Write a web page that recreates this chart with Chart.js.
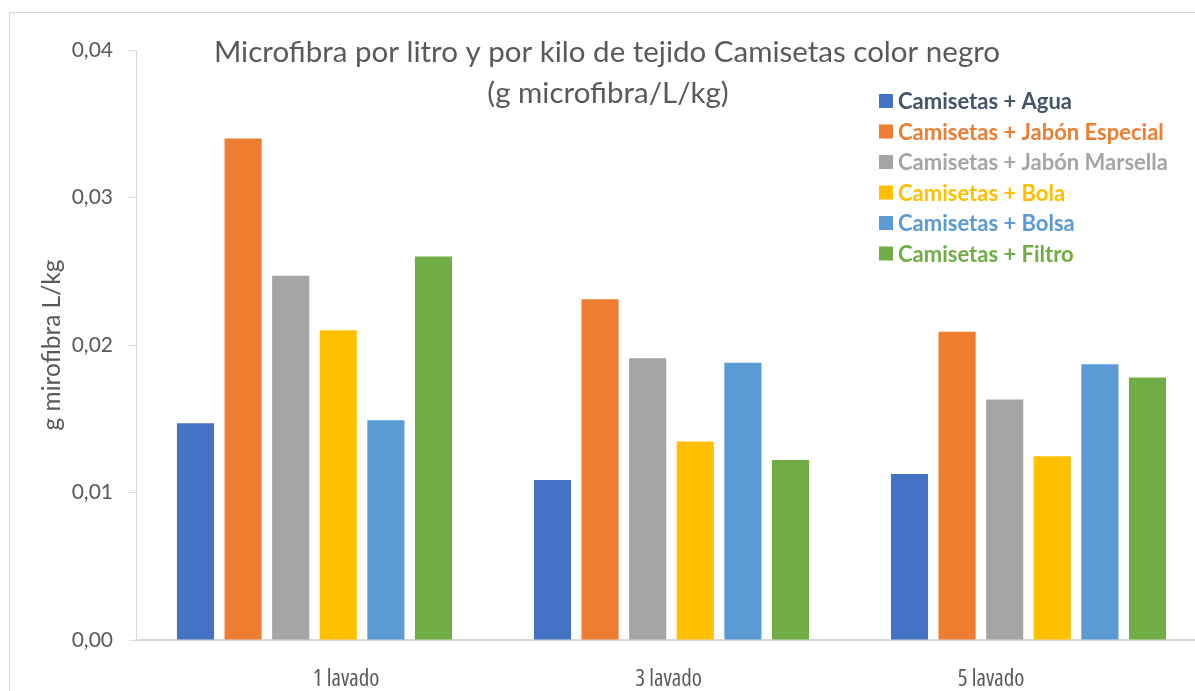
<!DOCTYPE html>
<html>
<head>
<meta charset="utf-8">
<script src="https://cdn.jsdelivr.net/npm/chart.js@4/dist/chart.umd.min.js"></script>
<style>
	html, body { margin: 0; padding: 0; background: #fff; overflow: hidden; }
	#frame {
		position: absolute; left: 9px; top: 12px;
		width: 1250px; height: 700px;
		border: 1px solid #d9d9d9;
	}
	#frame canvas { display: block; }
</style>
</head>
<body>
<div id="frame"><canvas id="microfibra-chart" width="1250" height="700"></canvas></div>
<script>
	'use strict';

	var categories = ['1 lavado', '3 lavado', '5 lavado'];
	var seriesNames = [
		'Camisetas + Agua',
		'Camisetas + Jabón Especial',
		'Camisetas + Jabón Marsella',
		'Camisetas + Bola',
		'Camisetas + Bolsa',
		'Camisetas + Filtro'
	];
	var agua = [0.0147, 0.01085, 0.01125];
	var jabonEspecial = [0.0340, 0.0231, 0.0209];
	var jabonMarsella = [0.0247, 0.0191, 0.0163];
	var bola = [0.0210, 0.01345, 0.01245];
	var bolsa = [0.0149, 0.0188, 0.0187];
	var filtro = [0.0260, 0.0122, 0.0178];
	var yTicks = [0, 0.01, 0.02, 0.03, 0.04];

	var seriesValues = [agua, jabonEspecial, jabonMarsella, bola, bolsa, filtro];
	var barColors = ['#4472c4', '#ed7d31', '#a5a5a5', '#ffc000', '#5b9bd5', '#70ad47'];
	var legendTextColors = ['#44546a', '#ed7d31', '#a5a5a5', '#ffc000', '#5b9bd5', '#70ad47'];
	var titleLines = ['Microfibra por litro y por kilo de tejido Camisetas color negro', '(g microfibra/L/kg)'];

	var textGrey = '#595959';
	var lineGrey = '#d9d9d9';
	var baseFont = 'Lato, "Open Sans", sans-serif';

	Chart.defaults.font.family = baseFont;

	// title and legend sit on top of the plot area, so they are painted here
	var overlayText = {
		id: 'overlayText',
		afterDraw: function (chart) {
			var ctx = chart.ctx;
			ctx.save();
			ctx.fillStyle = textGrey;
			ctx.textAlign = 'center';
			ctx.textBaseline = 'alphabetic';
			ctx.font = '29.5px ' + baseFont;
			ctx.fillText(titleLines[0], 597, 49);
			ctx.fillText(titleLines[1], 598, 90);

			ctx.textAlign = 'left';
			ctx.textBaseline = 'middle';
			ctx.font = 'bold 22px ' + baseFont;
			chart.data.datasets.forEach(function (ds, i) {
				var y = 88 + i * 30.5;
				ctx.fillStyle = ds.backgroundColor;
				ctx.fillRect(869, y - 7, 14, 14);
				ctx.fillStyle = legendTextColors[i];
				ctx.fillText(ds.label, 888, y + 1);
			});
			ctx.restore();
		}
	};

	var datasets = seriesNames.map(function (name, i) {
		return {
			label: name,
			data: seriesValues[i],
			backgroundColor: barColors[i],
			borderWidth: 0,
			categoryPercentage: 0.8,
			barPercentage: 0.78
		};
	});

	// label axis: category labels sit at their own spacing under the groups
	var labelStep = 322.5;
	var plotWidth = 1071;
	var labelMin = -(336 - 126) / labelStep;
	var labelMax = labelMin + plotWidth / labelStep;

	new Chart(document.getElementById('microfibra-chart'), {
		type: 'bar',
		data: { labels: categories, datasets: datasets },
		plugins: [overlayText],
		options: {
			responsive: false,
			animation: false,
			devicePixelRatio: 1,
			layout: { padding: { left: 0, top: 37, right: 53, bottom: 0 } },
			plugins: {
				legend: { display: false },
				title: { display: false },
				tooltip: { enabled: false }
			},
			scales: {
				x: {
					type: 'category',
					position: 'bottom',
					grid: { display: false },
					border: { display: true, color: lineGrey, width: 2 },
					ticks: { display: false },
					afterFit: function (axis) { axis.height = 0; }
				},
				xLabels: {
					type: 'linear',
					position: 'bottom',
					offset: false,
					min: labelMin,
					max: labelMax,
					grid: { display: false, drawTicks: false, offset: false },
					border: { display: false },
					afterBuildTicks: function (axis) {
						axis.ticks = categories.map(function (c, i) { return { value: i }; });
					},
					ticks: {
						color: textGrey,
						padding: 26,
						maxRotation: 0,
						autoSkip: false,
						// narrow face for the category names
						font: { family: '"Open Sans", sans-serif', weight: 'condensed', size: 23 },
						callback: function (value) { return categories[value]; }
					},
					afterFit: function (axis) { axis.height = 73; }
				},
				y: {
					min: 0,
					max: 0.04,
					afterBuildTicks: function (axis) {
						axis.ticks = yTicks.map(function (v) { return { value: v }; });
					},
					grid: { drawOnChartArea: false, drawTicks: true, tickLength: 7, tickColor: lineGrey },
					border: { display: true, color: lineGrey, width: 1 },
					ticks: {
						color: textGrey,
						padding: 16,
						font: { size: 21 },
						callback: function (value) { return value.toFixed(2).replace('.', ','); }
					},
					title: {
						display: true,
						text: 'g mirofibra L/kg',
						color: textGrey,
						font: { size: 24.5 },
						padding: { top: 27, bottom: 0 }
					},
					afterFit: function (axis) { axis.width = 126; }
				}
			}
		}
	});
</script>
</body>
</html>
